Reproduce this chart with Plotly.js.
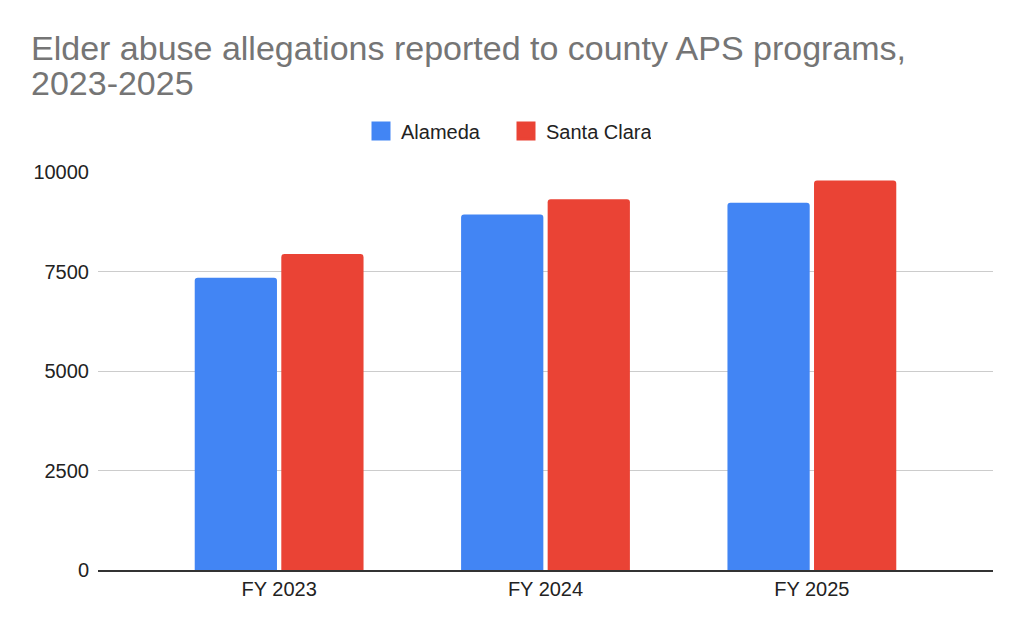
<!DOCTYPE html>
<html>
<head>
<meta charset="utf-8">
<script src="https://cdn.plot.ly/plotly-3.0.1.min.js"></script>
<style>
  html, body { margin: 0; padding: 0; background: #fff; }
  #chart { width: 1024px; height: 633px; }
</style>
</head>
<body>
<div id="chart"></div>
<script>
var years = ['FY 2023', 'FY 2024', 'FY 2025'];
var alameda = [7346, 8931, 9225];
var santaClara = [7942, 9316, 9786];
var yTicks = [0, 2500, 5000, 7500, 10000];
var titleLines = ['Elder abuse allegations reported to county APS programs,', '2023-2025'];

var font = 'Liberation Sans, Arial, sans-serif';
var blue = '#4285F4';
var red = '#EA4335';

// bars (kept out of the legend, legend uses bigger square markers below)
var trace1 = {
    x: years, y: alameda, name: 'Alameda', type: 'bar',
    marker: { color: blue }, showlegend: false
};
var trace2 = {
    x: years, y: santaClara, name: 'Santa Clara', type: 'bar',
    marker: { color: red }, showlegend: false
};

function legendEntry(name, color) {
    return {
        x: [null], y: [null], name: name, type: 'scatter', mode: 'markers',
        marker: { symbol: 'square', size: 16, color: color, line: { color: color, width: 3 } }
    };
}

var layout = {
    width: 1024,
    height: 633,
    margin: { l: 98, r: 31, t: 172, b: 63 },
    paper_bgcolor: '#fff',
    plot_bgcolor: '#fff',
    font: { family: font, size: 20, color: '#222' },
    annotations: titleLines.map(function (t, i) {
        return {
            text: t, showarrow: false,
            xref: 'paper', x: -69 / 895, xanchor: 'left',
            yref: 'paper', y: 1 + (172 - [48, 83][i]) / 398, yanchor: 'middle',
            font: { family: font, size: 34, color: '#757575' }
        };
    }),
    showlegend: true,
    legend: {
        orientation: 'h',
        xref: 'container', x: 0.5 - 6 / 1024, xanchor: 'center',
        yref: 'container', y: 1 - 131 / 633, yanchor: 'middle',
        font: { family: font, size: 20, color: '#222' },
        itemsizing: 'trace',
        entrywidth: 100
    },
    barmode: 'group',
    bargap: 0.35,
    bargroupgap: 0.05,
    barcornerradius: 3,
    xaxis: {
        type: 'category',
        range: [-0.68, 2.68],
        showgrid: false,
        showline: true,
        linecolor: '#333',
        linewidth: 1.5,
        ticks: '',
        tickfont: { family: font, size: 20, color: '#222' },
        fixedrange: true
    },
    yaxis: {
        range: [0, 10000],
        tickvals: yTicks,
        ticktext: yTicks.map(String),
        showgrid: true,
        gridcolor: '#cccccc',
        gridwidth: 1,
        zeroline: false,
        ticks: '',
        ticklabelstandoff: 8,
        tickfont: { family: font, size: 20, color: '#222' },
        fixedrange: true
    }
};

Plotly.newPlot('chart', [trace1, trace2, legendEntry('Alameda', blue), legendEntry('Santa Clara', red)],
    layout, { displayModeBar: false, staticPlot: true });
</script>
</body>
</html>
